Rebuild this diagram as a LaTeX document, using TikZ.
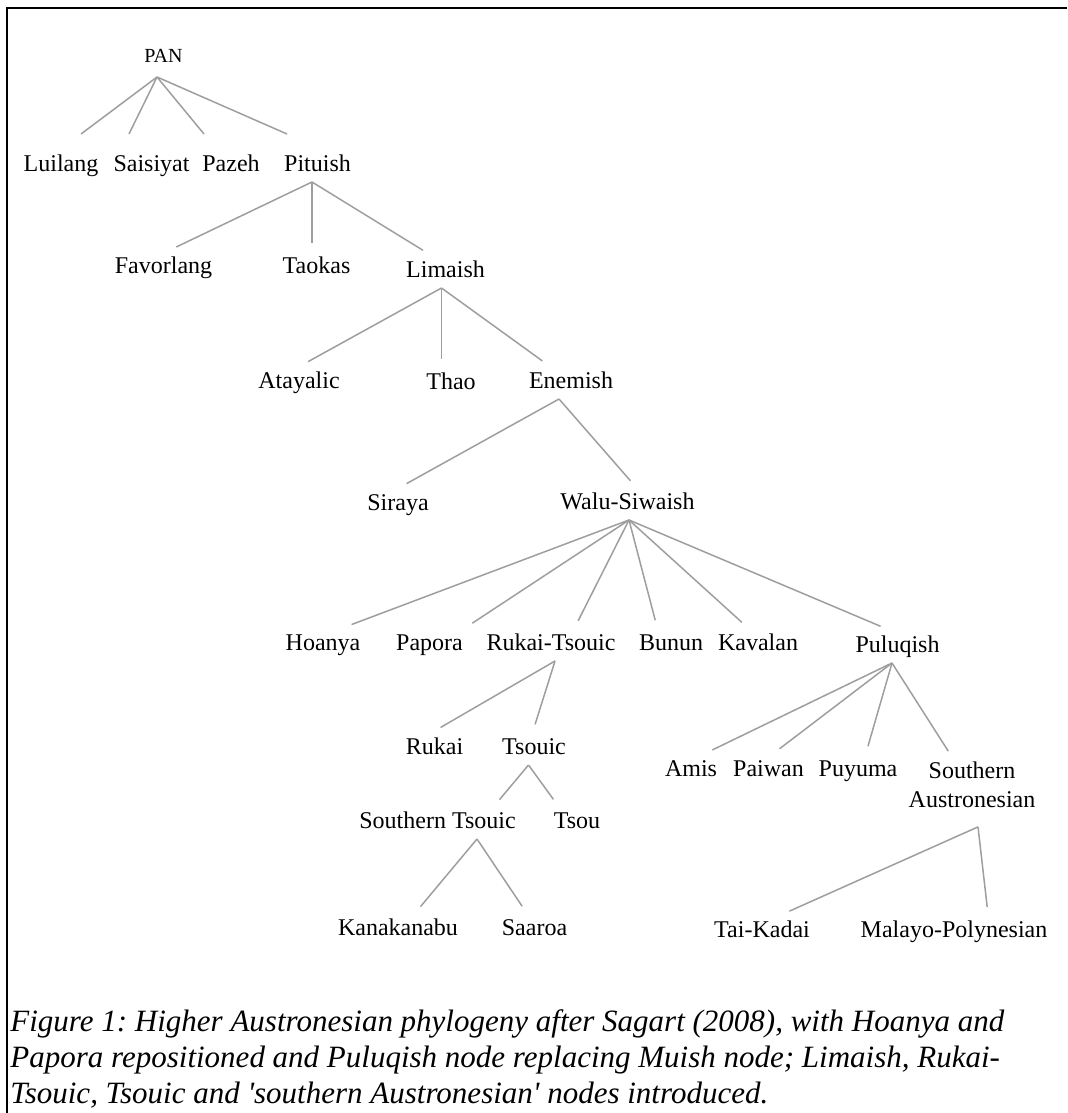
\documentclass[tikz,border=0pt]{standalone}
\usepackage{fontspec}
\setmainfont{Liberation Serif}
\usepackage{tikz}

\definecolor{branchgray}{RGB}{158,158,158}

\begin{document}
\begin{tikzpicture}[x=0.5pt, y=-0.5pt,
    lang/.style={font=\fontsize{12}{14.5}\selectfont, inner sep=0pt, outer sep=2.5pt,
        text height=9pt, text depth=3pt, anchor=base},
    branch/.style={draw=branchgray, line width=0.75pt, shorten >=3.5pt},
    caption/.style={font=\fontsize{15.5}{18}\selectfont\itshape\frenchspacing, align=left, inner sep=0pt}]
    \useasboundingbox (0,0) rectangle (1067,1113);
    \draw [line width=1pt] (7,1113) -- (7,8) -- (1067,8);

    % positions in pixels (text centre, baseline)
    \node[lang, font=\fontsize{10}{12}\selectfont] (pan) at (163.5,63) {PAN};
    \node[lang] (luilang) at (61,171) {Luilang};
    \node[lang] (saisiyat) at (151.5,171) {Saisiyat};
    \node[lang] (pazeh) at (231,171) {Pazeh};
    \node[lang] (pituish) at (317.5,171) {Pituish};
    \node[lang] (favorlang) at (163.5,273) {Favorlang};
    \node[lang] (taokas) at (316.5,273) {Taokas};
    \node[lang] (limaish) at (445.5,277) {Limaish};
    \node[lang] (atayalic) at (299,388) {Atayalic};
    \node[lang] (thao) at (451,389) {Thao};
    \node[lang] (enemish) at (571,388) {Enemish};
    \node[lang] (siraya) at (398,510) {Siraya};
    \node[lang] (walu) at (627.5,509) {Walu-Siwaish};
    \node[lang] (hoanya) at (323,650) {Hoanya};
    \node[lang] (papora) at (429.5,650) {Papora};
    \node[lang] (rukaits) at (551,650) {Rukai-Tsouic};
    \node[lang] (bunun) at (671,650) {Bunun};
    \node[lang] (kavalan) at (758,650) {Kavalan};
    \node[lang] (puluqish) at (897.5,652) {Puluqish};
    \node[lang] (rukai) at (434.5,754) {Rukai};
    \node[lang] (tsouic) at (534,754) {Tsouic};
    \node[lang] (stsouic) at (437.5,828) {Southern Tsouic};
    \node[lang] (tsou) at (577,828) {Tsou};
    \node[lang] (kanakanabu) at (398,935) {Kanakanabu};
    \node[lang] (saaroa) at (534.5,935) {Saaroa};
    \node[lang] (amis) at (691,776) {Amis};
    \node[lang] (paiwan) at (768.5,776) {Paiwan};
    \node[lang] (puyuma) at (858,776) {Puyuma};
    \node[font=\fontsize{12}{14.5}\selectfont, align=center, inner sep=0pt, outer sep=2.5pt,
        anchor=north] (saus) at (972,757) {Southern\\Austronesian};
    \node[lang] (taikadai) at (762,937) {Tai-Kadai};
    \node[lang] (malayo) at (954,937) {Malayo-Polynesian};

    \foreach \c/\cd in {luilang/10, saisiyat/-11.25, pazeh/-13.5, pituish/-15.25} {
        \draw [branch, shorten >=0pt] ([xshift=-3.25pt, yshift=-1.5pt]pan.south) -- ([xshift=\cd pt, yshift=7pt]\c.north);
    }
    \foreach \p/\pd/\c/\cd in {
        pituish/-2.75/favorlang/3.25, pituish/-2.75/taokas/-2.25, pituish/-2.75/limaish/-8.25,
        limaish/-2/atayalic/1.5, limaish/-2/thao/-4.75, limaish/-2/enemish/-11.5,
        enemish/-6/siraya/1.25, enemish/-6/walu/3.75,
        walu/0.75/hoanya/11, walu/0.75/papora/18.5, walu/0.75/rukaits/12,
        walu/0.75/bunun/-7, walu/0.75/kavalan/-5.5, walu/0.75/puluqish/-5.25,
        rukaits/2/rukai/0, rukaits/2/tsouic/-0.5,
        tsouic/-2.75/stsouic/28.75, tsouic/-2.75/tsou/-9.75,
        stsouic/19.75/kanakanabu/9, stsouic/19.75/saaroa/-4.25,
        puluqish/-2.75/amis/7.5, puluqish/-2.75/paiwan/2.75,
        puluqish/-2.75/puyuma/4, puluqish/-2.75/saus/-10} {
        \draw [branch] ([xshift=\pd pt]\p.south) -- ([xshift=\cd pt]\c.north);
    }
    \draw [branch] ([xshift=3pt, yshift=-7pt]saus.south) -- ([xshift=10.5pt]taikadai.north);
    \draw [branch] ([xshift=3pt, yshift=-7pt]saus.south) -- ([xshift=17pt]malayo.north);

    \node[caption, anchor=north west] (cap) at (10,1009) {Figure 1: Higher Austronesian phylogeny after Sagart (2008), with Hoanya and\\
        Papora repositioned and Puluqish node replacing Muish node; Limaish, Rukai-\\
        Tsouic, Tsouic and \textquotesingle southern Austronesian\textquotesingle\ nodes introduced.};
\end{tikzpicture}
\end{document}
